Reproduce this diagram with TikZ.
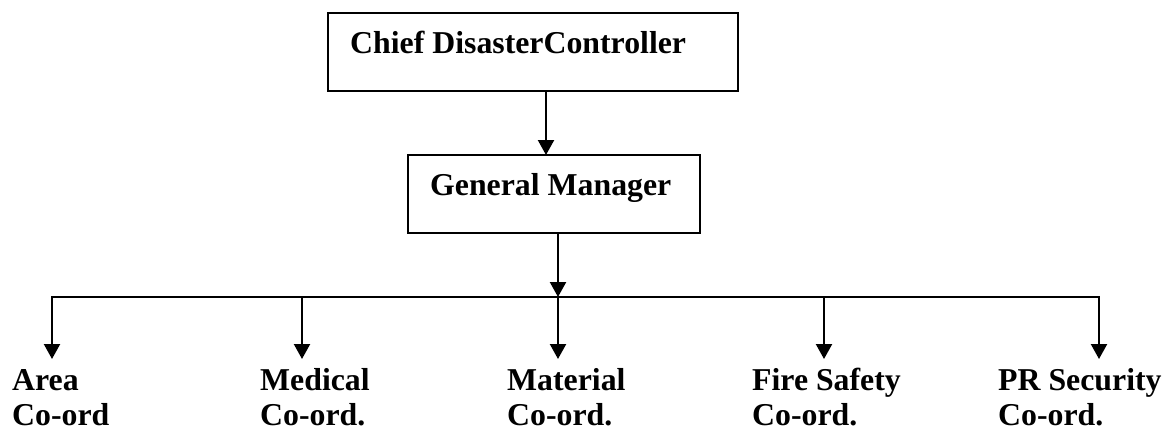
\documentclass[tikz,border=0pt]{standalone}
\usepackage{fontspec}
\setmainfont{Liberation Serif}
\usetikzlibrary{arrows.meta}
\begin{document}
\begin{tikzpicture}[x=1pt,y=-1pt,
  box/.style={draw,line width=1.8pt,minimum width=#1,minimum height=78pt,inner sep=0pt},
  lbl/.style={font=\fontsize{31.8}{35}\selectfont\bfseries,inner sep=0pt,align=left,anchor=base west},
  arr/.style={line width=2.2pt,-{Triangle[length=15pt,width=16pt]}},
  ln/.style={line width=2.2pt}]
\useasboundingbox (0,0) rectangle (1165,429);
% boxes
\node[box=410pt] (cdc) at (533,52) {};
\node[box=292pt] (gm) at (554,194) {};
\node[lbl] (cdct) at (350,53) {Chief DisasterController};
\node[lbl] (gmt) at (430,195) {General Manager};
% coordinates
\coordinate (a1) at (546,91);
\coordinate (a2) at (546,155);
\coordinate (g1) at (558,233);
\coordinate (j) at (558,297);
\coordinate (bl) at (52,297);
\coordinate (br) at (1099,297);
\coordinate (b2) at (302,297);
\coordinate (b4) at (824,297);
\coordinate (t1) at (52,359);
\coordinate (t2) at (302,359);
\coordinate (t3) at (558,359);
\coordinate (t4) at (824,359);
\coordinate (t5) at (1099,359);
\draw[arr] (a1) -- (a2);
\draw[arr] (g1) -- (j);
\draw[ln,line cap=rect] (bl) -- (br);
\draw[arr] (bl) -- (t1);
\draw[arr] (b2) -- (t2);
\draw[arr] (j) -- (t3);
\draw[arr] (b4) -- (t4);
\draw[arr] (br) -- (t5);
% labels (anchor is baseline of last line)
\node[lbl] (area) at (12,425) {Area\\Co-ord};
\node[lbl] (med) at (260,425) {Medical\\Co-ord.};
\node[lbl] (mat) at (507,425) {Material\\Co-ord.};
\node[lbl] (fire) at (752,425) {Fire Safety\\Co-ord.};
\node[lbl] (pr) at (998,425) {PR Security\\Co-ord.};
\end{tikzpicture}
\end{document}
